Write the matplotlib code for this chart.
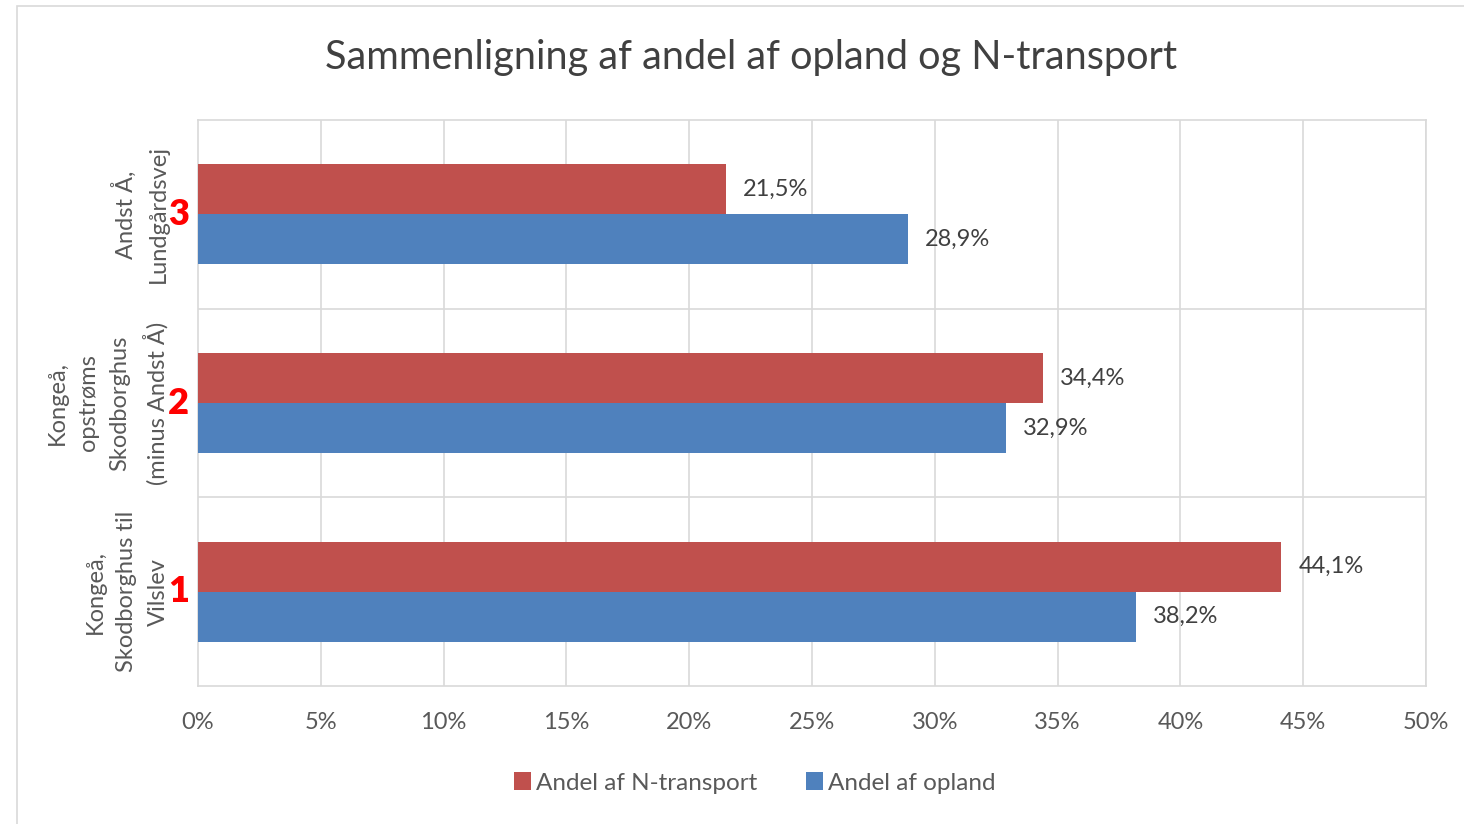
import matplotlib.pyplot as plt
import numpy as np
from matplotlib.patches import Rectangle

plt.rcParams['font.family'] = ['Lato', 'DejaVu Sans']

categories = ['Kongeå,\nSkodborghus til\nVilslev',
              'Kongeå,\nopstrøms\nSkodborghus\n(minus Andst Å)',
              'Andst Å,\nLundgårdsvej']
markers = ['1', '2', '3']
n_transport = [44.1, 34.4, 21.5]
opland = [38.2, 32.9, 28.9]
xticks = [0, 5, 10, 15, 20, 25, 30, 35, 40, 45, 50]

red = '#c0504d'
blue = '#4f81bd'
txt = '#404040'
grid = '#d9d9d9'

fig = plt.figure(figsize=(14.64, 8.24), dpi=100)
W, H = 1464, 824
ax = fig.add_axes([198 / W, 1 - 686 / H, (1426 - 198) / W, (686 - 120) / H])

# chart border
fig.patches.append(Rectangle((17 / W, -0.01), 1.0, 1 - 6 / H + 0.01, transform=fig.transFigure,
                             fill=False, edgecolor=grid, linewidth=1.2))

y = np.arange(len(categories))
h = 0.265
ax.barh(y + h / 2, n_transport, height=h, color=red, label='Andel af N-transport', zorder=3)
ax.barh(y - h / 2, opland, height=h, color=blue, label='Andel af opland', zorder=3)

for i in range(len(categories)):
    ax.text(n_transport[i] + 0.7, y[i] + h / 2, '{:.1f}%'.format(n_transport[i]).replace('.', ','),
            va='center', ha='left', fontsize=17, color=txt, zorder=4)
    ax.text(opland[i] + 0.7, y[i] - h / 2, '{:.1f}%'.format(opland[i]).replace('.', ','),
            va='center', ha='left', fontsize=17, color=txt, zorder=4)

ax.set_xlim(0, 50)
ax.set_ylim(-0.5, len(categories) - 0.5)
ax.set_xticks(xticks)
ax.set_xticklabels(['{}%'.format(t) for t in xticks], fontsize=17, color='#595959')
ax.set_yticks(y)
ax.set_yticklabels([])
ax.tick_params(axis='both', length=0, pad=19)

for t in xticks[1:]:
    ax.axvline(t, color=grid, linewidth=1.2, zorder=1)
for b in [0.5, 1.5]:
    ax.axhline(b, color=grid, linewidth=1.2, zorder=1)
for s in ax.spines.values():
    s.set_color(grid)
    s.set_linewidth(1.2)

# rotated category labels
for i, lab in enumerate(categories):
    ax.text(-1.2, y[i], lab, rotation=90, ha='right', va='center', multialignment='center',
            fontsize=17, color='#595959', clip_on=False, linespacing=1.6)
    ax.text(-0.8, y[i], markers[i], ha='center', va='center', fontsize=26, fontweight='heavy',
            color='#ff0000', clip_on=False, zorder=5)

fig.text(751 / W, 1 - 57 / H, 'Sammenligning af andel af opland og N-transport', ha='center', va='center',
         fontsize=28.5, color='#404040')

fig.legend(loc='center', bbox_to_anchor=(755 / W, 1 - 783 / H), ncol=2, frameon=False, fontsize=17.5,
           handlelength=0.7, handleheight=0.7, handletextpad=0.2, columnspacing=2.0, labelcolor='#595959')

fig.savefig('out.png', dpi=100)
